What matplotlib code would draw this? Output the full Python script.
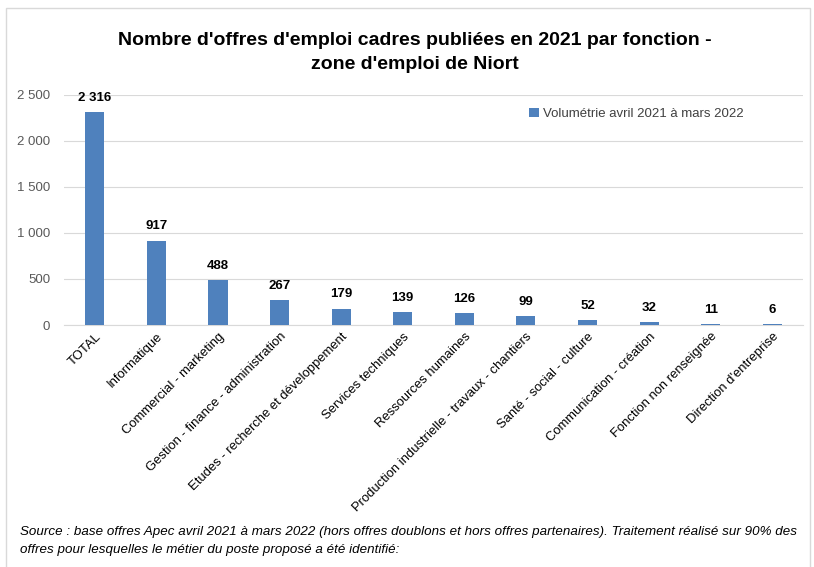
import matplotlib
matplotlib.use("Agg")
import matplotlib.pyplot as plt
from matplotlib.patches import Rectangle
from matplotlib.ticker import FuncFormatter

categories = [
    "TOTAL", "Informatique", "Commercial - marketing",
    "Gestion - finance - administration", "Etudes - recherche et développement",
    "Services techniques", "Ressources humaines",
    "Production industrielle - travaux - chantiers", "Santé - social - culture",
    "Communication - création", "Fonction non renseignée", "Direction d'entreprise",
]
values = [2316, 917, 488, 267, 179, 139, 126, 99, 52, 32, 11, 6]
series_label = "Volumétrie avril 2021 à mars 2022"

plt.rcParams["font.family"] = ["Liberation Sans", "DejaVu Sans"]

fig = plt.figure(figsize=(8.14, 5.67), dpi=100)
ax = fig.add_axes([0.0786, 0.4268, 0.908, 0.4057])

x = range(len(categories))
bars = ax.bar(x, values, width=0.31, color="#4F81BD", label=series_label, zorder=3)

def fmt(v):
    return f"{int(v):,}".replace(",", " ")

for b, v in zip(bars, values):
    ax.annotate(fmt(v), (b.get_x() + b.get_width() / 2, v), xytext=(0, 6),
                textcoords="offset points", ha="center", va="bottom",
                fontsize=9.5, fontweight="bold", color="#000000")

ax.set_xlim(-0.5, len(categories) - 0.5)
ax.set_ylim(0, 2500)
ax.set_yticks(range(0, 2501, 500))
ax.yaxis.set_major_formatter(FuncFormatter(lambda v, p: fmt(v)))
ax.grid(axis="y", color="#d9d9d9", linewidth=0.8, zorder=0)
for s in ["top", "right", "left"]:
    ax.spines[s].set_visible(False)
ax.spines["bottom"].set_color("#d9d9d9")
ax.tick_params(axis="y", length=0, labelsize=9.5, colors="#595959", pad=10)
ax.tick_params(axis="x", length=0, labelsize=9.4, colors="#000000", pad=4)
ax.set_xticks(list(x))
ax.set_xticklabels(categories, rotation=45, ha="right", rotation_mode="anchor")

ax.legend(loc="upper right", bbox_to_anchor=(0.935, 0.995), frameon=False,
          fontsize=9.5, handlelength=0.7, handleheight=0.7, handletextpad=0.3,
          labelcolor="#404040")

fig.text(0.51, 0.907, "Nombre d'offres d'emploi cadres publiées en 2021 par fonction -\nzone d'emploi de Niort",
         ha="center", va="center", fontsize=14, fontweight="bold", linespacing=1.5)

fig.text(0.025, 0.046, "Source : base offres Apec avril 2021 à mars 2022 (hors offres doublons et hors offres partenaires). Traitement réalisé sur 90% des\noffres pour lesquelles le métier du poste proposé a été identifié:",
         ha="left", va="center", fontsize=9.6, style="italic", linespacing=1.6)

fig.patches.append(Rectangle((0.007, -0.01), 0.988, 0.996, transform=fig.transFigure,
                             fill=False, edgecolor="#d9d9d9", linewidth=1.0))

fig.savefig("out.png", dpi=100)
